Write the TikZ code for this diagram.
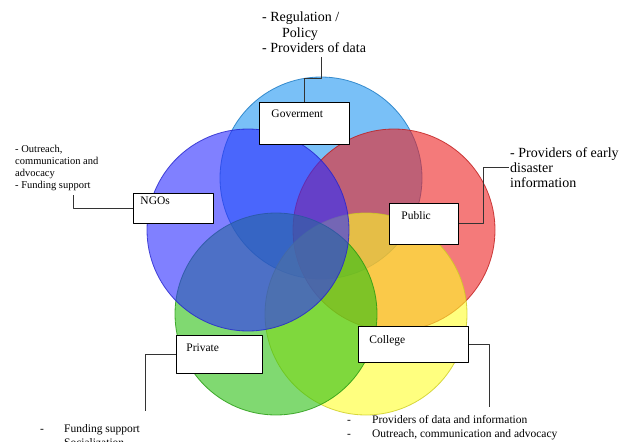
\documentclass[tikz,border=0pt]{standalone}
\usepackage{fontspec}
\setmainfont{Liberation Serif}
\usetikzlibrary{positioning}
\definecolor{ttzzff}{rgb}{0.12,0.59,0.95}
\definecolor{ttttff}{rgb}{0.17,0.17,1}
\definecolor{fftttt}{rgb}{0.93,0.13,0.13}
\definecolor{ttccqq}{rgb}{0.17,0.75,0.07}
\definecolor{ffffqq}{rgb}{1,1,0.16}
\definecolor{wwwwww}{rgb}{0.2,0.2,0.2}

\begin{document}
\begin{tikzpicture}[line cap=round,line join=round,x=1pt,y=-1pt,
		set/.style={fill opacity=0.6,draw opacity=0.8,line width=0.8pt},
		box/.style={draw=black,fill=white,line width=0.9pt,anchor=north west,inner xsep=11pt,inner ysep=0pt,align=left,font=\fontsize{11.5}{13}\selectfont},
		note/.style={anchor=base west,inner sep=0pt,align=left},
		link/.style={draw=wwwwww,line width=1pt,line cap=butt}]
		\useasboundingbox (0,0) rectangle (636,441);
		\clip (0,0) rectangle (636,441);
		% the five circles
		\draw[set,draw=ttzzff!80!black,fill=ttzzff] (321,178) circle (101pt);
		\draw[set,draw=fftttt!80!black,fill=fftttt] (394,230) circle (101pt);
		\draw[set,draw=ffffqq!80!black,fill=ffffqq] (366,314) circle (101pt);
		\draw[set,draw=ttccqq!80!black,fill=ttccqq] (276,314) circle (101pt);
		\draw[set,draw=ttttff!80!black,fill=ttttff] (248,230) circle (101pt);
		% boxes
		\node[box,inner xsep=12pt,text width=66pt,text height=15pt,text depth=27pt] (gov) at (259,102) {Goverment};
		\node[box,inner xsep=7pt,text width=66pt,text height=11pt,text depth=19pt] (ngo) at (133,193) {NGOs};
		\node[box,inner xsep=12pt,text width=45pt,text height=16pt,text depth=25pt] (pub) at (389,203) {Public};
		\node[box,inner xsep=10pt,text width=66pt,text height=16pt,text depth=22pt] (priv) at (176,335) {Private};
		\node[box,inner xsep=11pt,text width=88pt,text height=17pt,text depth=19pt] (col) at (358,326) {College};
		% notes (placed at the baseline of their last line)
		\node[note,font=\fontsize{14}{15.5}\selectfont] (govtxt) at (262,53) {- Regulation /\\\hspace{20pt}Policy\\- Providers of data};
		\node[note,font=\fontsize{10.5}{11.8}\selectfont] (ngotxt) at (15,188) {- Outreach,\\communication and\\advocacy\\- Funding support};
		\node[note,font=\fontsize{14}{15}\selectfont] (pubtxt) at (510,187) {- Providers of early\\disaster\\information};
		\node[note,font=\fontsize{11.5}{14}\selectfont] (privtxt) at (40,446) {\makebox[24pt][l]{-}Funding support\\\makebox[24pt][l]{-}Socialization};
		\node[note,font=\fontsize{11.5}{14}\selectfont] (coltxt) at (347,437) {\makebox[25pt][l]{-}Providers of data and information\\\makebox[25pt][l]{-}Outreach, communication and advocacy};
		% connectors
		\coordinate (govend) at (321,57);
		\coordinate (ngoend) at (73,195);
		\coordinate (pubend) at (509,167);
		\coordinate (privend) at (145,411);
		\coordinate (colend) at (489,407);
		\draw[link] (gov.north) -- ++(0,-23) -| (govend);
		\draw[link] (ngo.west) -| (ngoend);
		\draw[link] (pub.east) -- ++(25,0) |- (pubend);
		\draw[link] (priv.west) -| (privend);
		\draw[link] (col.east) -| (colend);
	\end{tikzpicture}
\end{document}
